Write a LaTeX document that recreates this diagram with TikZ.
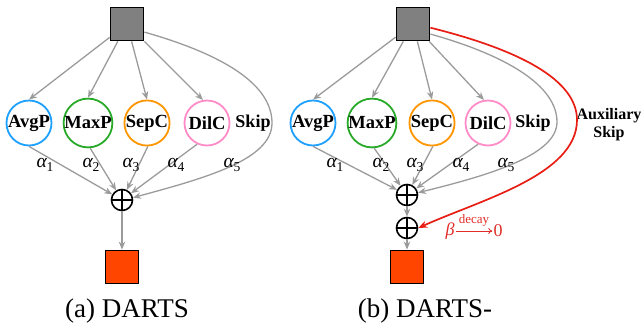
\documentclass[tikz,border=0pt]{standalone}
\usepackage{fontspec}
\setmainfont{Liberation Serif}
\usetikzlibrary{arrows.meta}
\definecolor{cblue}{RGB}{30,160,255}
\definecolor{cgreen}{RGB}{40,170,40}
\definecolor{corange}{RGB}{255,150,0}
\definecolor{cpink}{RGB}{255,140,200}
\definecolor{cgrayfill}{RGB}{128,128,128}
\definecolor{coutfill}{RGB}{255,69,0}
\definecolor{cedge}{RGB}{155,155,155}
\definecolor{cred}{RGB}{232,30,20}
\definecolor{clabred}{RGB}{225,45,40}
\newcommand{\alphalab}[1]{{\itshape α}\raisebox{-4pt}{\fontsize{13.5}{14}\selectfont #1}}
\tikzset{
  opnode/.style={circle,draw=#1,line width=1.8pt,minimum size=45pt,inner sep=0pt,font=\fontsize{18.5}{20}\selectfont\bfseries},
  insq/.style={rectangle,draw=black,line width=1.8pt,fill=cgrayfill,minimum size=33pt,inner sep=0pt},
  outsq/.style={rectangle,draw=black,line width=1.8pt,fill=coutfill,minimum size=33pt,inner sep=0pt},
  sumnode/.style={circle,draw=black,line width=1.6pt,minimum size=21pt,inner sep=0pt,
    path picture={\draw[line width=1.5pt] (path picture bounding box.north) -- (path picture bounding box.south)
      (path picture bounding box.west) -- (path picture bounding box.east);}},
  conn/.style={draw=cedge,line width=1.3pt,-{Stealth[length=8pt,width=6.5pt]}},
  redconn/.style={draw=cred,line width=1.7pt,-{Stealth[length=9pt,width=7pt]}},
  decayarrow/.style={draw=clabred,line width=0.8pt,-{To[length=4pt,width=6pt]},shorten <=1pt,shorten >=1pt},
  lbl/.style={font=\fontsize{18}{20}\selectfont\bfseries,inner sep=0pt},
  alab/.style={font=\fontsize{19.5}{21}\selectfont,inner sep=0pt},
  redlab/.style={text=clabred,font=\fontsize{18}{20}\selectfont,inner sep=0pt},
  captext/.style={font=\fontsize{27}{30}\selectfont,inner sep=0pt}
}
\begin{document}
\begin{tikzpicture}[x=1pt,y=-1pt]
\useasboundingbox (0,0) rectangle (643,330);
% ---------- (a) DARTS ----------
\node[insq] (sqa) at (127,24) {};
\node[opnode=cblue] (avga) at (29,123) {AvgP};
\node[opnode=cgreen] (maxa) at (88,123) {MaxP};
\node[opnode=corange] (sepa) at (147,123) {SepC};
\node[opnode=cpink] (dila) at (207,123) {DilC};
\node[lbl] (skipa) at (253,123) {Skip};
\node[sumnode] (suma) at (122,200) {};
\node[outsq] (outa) at (122,267) {};
\draw[conn] (sqa) -- (avga.north);
\draw[conn] (sqa) -- (maxa.north);
\draw[conn] (sqa) -- (sepa.north);
\draw[conn] (sqa) -- (dila.100);
\draw[conn] (avga.south) -- (suma);
\draw[conn] (maxa.-85) -- (suma);
\draw[conn] (sepa.-88) -- (suma);
\draw[conn] (dila.245) -- (suma);
\draw[conn] (sqa.-25) .. controls (225,55) and (272,85) .. (272,123)
  .. controls (272,160) and (205,178) .. (suma.12);
\draw[conn] (suma) -- (outa);
\node[alab] at (45,165) {\alphalab{1}};
\node[alab] at (91,165) {\alphalab{2}};
\node[alab] at (131,165) {\alphalab{3}};
\node[alab] at (176,165) {\alphalab{4}};
\node[alab] at (232,165) {\alphalab{5}};
\node[captext] (capa) at (127,311) {(a) DARTS};
% ---------- (b) DARTS- ----------
\node[insq] (sqb) at (413,24) {};
\node[opnode=cblue] (avgb) at (313,123) {AvgP};
\node[opnode=cgreen] (maxb) at (372,123) {MaxP};
\node[opnode=corange] (sepb) at (432,123) {SepC};
\node[opnode=cpink] (dilb) at (488,123) {DilC};
\node[lbl] (skipb) at (533,123) {Skip};
\node[lbl,align=center,font=\fontsize{16}{18}\selectfont\bfseries] (aux) at (609,125) {Auxiliary\\Skip};
\node[sumnode] (sumb) at (407,195) {};
\node[sumnode] (sumc) at (407,228) {};
\node[outsq] (outb) at (407,267) {};
\draw[conn] (sqb) -- (avgb.north);
\draw[conn] (sqb) -- (maxb.north);
\draw[conn] (sqb) -- (sepb.north);
\draw[conn] (sqb) -- (dilb.100);
\draw[conn] (avgb.south) -- (sumb);
\draw[conn] (maxb.-85) -- (sumb);
\draw[conn] (sepb.-88) -- (sumb);
\draw[conn] (dilb.245) -- (sumb);
\draw[conn] (sqb.-30) .. controls (505,55) and (557,85) .. (557,122)
  .. controls (557,155) and (490,175) .. (sumb.12);
\draw[redconn] (sqb.-12) .. controls (520,50) and (577,80) .. (577,120)
  .. controls (577,175) and (480,200) .. (sumc.east);
\draw[conn] (sumb) -- (sumc);
\draw[conn] (sumc) -- (outb);
\node[alab] at (335,165) {\alphalab{1}};
\node[alab] at (381,165) {\alphalab{2}};
\node[alab] at (415,165) {\alphalab{3}};
\node[alab] at (461,165) {\alphalab{4}};
\node[alab] at (506,165) {\alphalab{5}};
\node[redlab] (beta) at (450,231) {\itshape β};
\node[redlab] (zero) at (498,231) {0};
\draw[decayarrow] (beta) -- (zero)
  node[midway,above=4pt,text=clabred,font=\fontsize{13}{14}\selectfont,inner sep=0pt] (decay) {decay};
\node[captext] (capb) at (425,311) {(b) DARTS-};
\end{tikzpicture}
\end{document}
